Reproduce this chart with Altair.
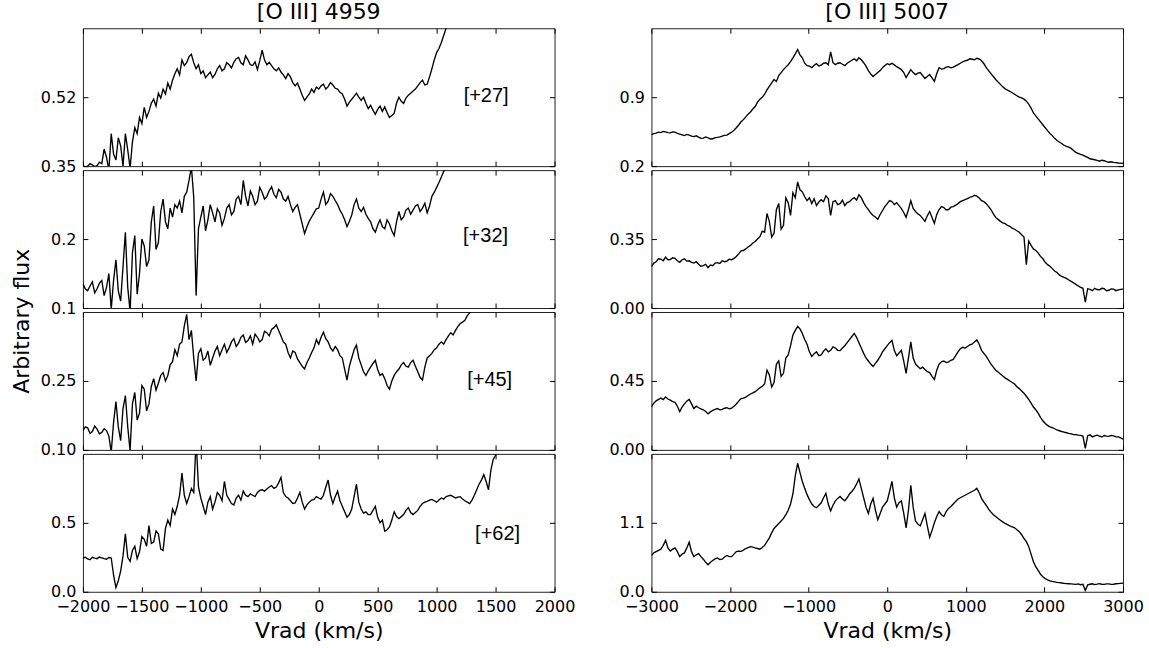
import altair as alt
import pandas as pd

# ---------------- data ----------------
LEFT_V0, LEFT_DV = -2000, 20     # velocity sampling of the [O III] 4959 spectra
RIGHT_V0, RIGHT_DV = -3000, 30   # velocity sampling of the [O III] 5007 spectra

left_xticks = [-2000, -1500, -1000, -500, 0, 500, 1000, 1500, 2000]
right_xticks = [-3000, -2000, -1000, 0, 1000, 2000, 3000]

f4959_27 = [
    0.352, 0.348, 0.350, 0.356, 0.353, 0.349, 0.351, 0.360, 0.356, 0.392, 0.372, 0.340, 0.430, 0.380, 0.365, 0.420, 0.400, 0.350, 0.430, 0.390,
    0.345, 0.410, 0.445, 0.430, 0.470, 0.455, 0.495, 0.470, 0.485, 0.505, 0.515, 0.498, 0.530, 0.518, 0.540, 0.528, 0.555, 0.540, 0.562, 0.578,
    0.590, 0.575, 0.612, 0.598, 0.605, 0.620, 0.626, 0.605, 0.590, 0.600, 0.578, 0.585, 0.568, 0.575, 0.582, 0.568, 0.576, 0.590, 0.598, 0.585,
    0.590, 0.605, 0.600, 0.592, 0.606, 0.615, 0.618, 0.605, 0.600, 0.622, 0.612, 0.600, 0.598, 0.607, 0.588, 0.610, 0.636, 0.612, 0.600, 0.606,
    0.598, 0.590, 0.585, 0.592, 0.582, 0.575, 0.566, 0.578, 0.570, 0.556, 0.548, 0.555, 0.540, 0.525, 0.512, 0.520, 0.528, 0.540, 0.532, 0.545,
    0.540, 0.548, 0.552, 0.540, 0.546, 0.556, 0.550, 0.542, 0.540, 0.532, 0.528, 0.515, 0.498, 0.508, 0.515, 0.522, 0.530, 0.520, 0.512, 0.520,
    0.505, 0.492, 0.500, 0.488, 0.478, 0.490, 0.498, 0.485, 0.496, 0.482, 0.470, 0.475, 0.480, 0.505, 0.520, 0.510, 0.505, 0.518, 0.525, 0.530,
    0.535, 0.540, 0.548, 0.556, 0.562, 0.550, 0.552, 0.570, 0.590, 0.612, 0.630, 0.640, 0.655, 0.672, 0.690, 0.705, 0.720, 0.735, 0.750,
]
f4959_32 = [
    0.135, 0.128, 0.125, 0.132, 0.138, 0.122, 0.128, 0.136, 0.140, 0.118, 0.130, 0.150, 0.098, 0.140, 0.170, 0.125, 0.110, 0.160, 0.210, 0.130,
    0.095, 0.180, 0.205, 0.120, 0.150, 0.200, 0.190, 0.160, 0.170, 0.225, 0.248, 0.185, 0.195, 0.240, 0.258, 0.225, 0.215, 0.245, 0.232, 0.250,
    0.245, 0.255, 0.238, 0.262, 0.268, 0.285, 0.305, 0.260, 0.118, 0.215, 0.232, 0.248, 0.212, 0.228, 0.250, 0.238, 0.225, 0.244, 0.238, 0.220,
    0.230, 0.245, 0.250, 0.235, 0.240, 0.258, 0.262, 0.250, 0.285, 0.262, 0.248, 0.270, 0.262, 0.250, 0.255, 0.275, 0.268, 0.258, 0.262, 0.270,
    0.276, 0.265, 0.260, 0.272, 0.268, 0.258, 0.255, 0.262, 0.250, 0.240, 0.246, 0.250, 0.236, 0.222, 0.208, 0.218, 0.226, 0.232, 0.238, 0.244,
    0.245, 0.258, 0.268, 0.250, 0.255, 0.266, 0.262, 0.256, 0.250, 0.242, 0.236, 0.228, 0.218, 0.226, 0.235, 0.250, 0.258, 0.245, 0.240, 0.246,
    0.236, 0.230, 0.225, 0.215, 0.210, 0.220, 0.228, 0.218, 0.215, 0.228, 0.222, 0.212, 0.205, 0.225, 0.240, 0.228, 0.232, 0.242, 0.245, 0.236,
    0.242, 0.248, 0.250, 0.240, 0.245, 0.252, 0.238, 0.248, 0.262, 0.268, 0.275, 0.282, 0.290, 0.298, 0.305, 0.312, 0.320,
]
f4959_45 = [
    0.142, 0.150, 0.148, 0.136, 0.140, 0.152, 0.145, 0.135, 0.138, 0.146, 0.142, 0.130, 0.095, 0.160, 0.205, 0.150, 0.120, 0.190, 0.218, 0.150,
    0.098, 0.200, 0.225, 0.165, 0.180, 0.240, 0.232, 0.185, 0.200, 0.238, 0.255, 0.230, 0.245, 0.262, 0.268, 0.250, 0.262, 0.285, 0.292, 0.318,
    0.305, 0.330, 0.335, 0.370, 0.395, 0.340, 0.360, 0.300, 0.250, 0.310, 0.320, 0.295, 0.300, 0.315, 0.284, 0.300, 0.315, 0.325, 0.305, 0.318,
    0.330, 0.312, 0.322, 0.335, 0.342, 0.325, 0.332, 0.345, 0.350, 0.334, 0.338, 0.348, 0.330, 0.352, 0.345, 0.335, 0.340, 0.358, 0.355, 0.348,
    0.362, 0.366, 0.372, 0.360, 0.348, 0.335, 0.330, 0.312, 0.300, 0.315, 0.312, 0.298, 0.290, 0.282, 0.276, 0.290, 0.300, 0.312, 0.322, 0.340,
    0.330, 0.345, 0.356, 0.342, 0.335, 0.322, 0.315, 0.325, 0.318, 0.305, 0.300, 0.275, 0.252, 0.282, 0.300, 0.318, 0.328, 0.300, 0.285, 0.270,
    0.262, 0.272, 0.280, 0.288, 0.295, 0.275, 0.262, 0.266, 0.255, 0.240, 0.232, 0.250, 0.262, 0.270, 0.276, 0.285, 0.290, 0.282, 0.280, 0.290,
    0.295, 0.282, 0.270, 0.258, 0.252, 0.280, 0.300, 0.305, 0.310, 0.318, 0.322, 0.330, 0.335, 0.330, 0.340, 0.348, 0.355, 0.350, 0.360, 0.368,
    0.375, 0.378, 0.382, 0.392, 0.398, 0.408, 0.415, 0.422, 0.430,
]
f4959_62 = [
    0.245, 0.250, 0.238, 0.232, 0.250, 0.244, 0.240, 0.252, 0.246, 0.240, 0.236, 0.248, 0.245, 0.120, 0.030, 0.080, 0.150, 0.260, 0.420, 0.250,
    0.220, 0.300, 0.330, 0.240, 0.290, 0.400, 0.380, 0.330, 0.480, 0.350, 0.360, 0.440, 0.420, 0.310, 0.300, 0.460, 0.520, 0.480, 0.600, 0.560,
    0.620, 0.700, 0.860, 0.700, 0.640, 0.690, 0.750, 0.720, 1.100, 0.760, 0.680, 0.620, 0.560, 0.650, 0.690, 0.600, 0.650, 0.720, 0.700, 0.660,
    0.800, 0.700, 0.670, 0.640, 0.630, 0.680, 0.700, 0.665, 0.730, 0.700, 0.690, 0.710, 0.700, 0.690, 0.720, 0.735, 0.740, 0.730, 0.745, 0.760,
    0.770, 0.750, 0.760, 0.790, 0.830, 0.720, 0.690, 0.680, 0.660, 0.640, 0.645, 0.680, 0.720, 0.650, 0.600, 0.630, 0.650, 0.665, 0.670, 0.690,
    0.680, 0.672, 0.700, 0.760, 0.810, 0.700, 0.640, 0.690, 0.730, 0.660, 0.620, 0.580, 0.540, 0.560, 0.600, 0.690, 0.780, 0.650, 0.600, 0.570,
    0.580, 0.560, 0.560, 0.590, 0.620, 0.540, 0.500, 0.520, 0.440, 0.450, 0.470, 0.520, 0.580, 0.545, 0.530, 0.545, 0.560, 0.590, 0.610, 0.575,
    0.560, 0.575, 0.590, 0.620, 0.640, 0.650, 0.655, 0.665, 0.670, 0.660, 0.650, 0.665, 0.680, 0.672, 0.690, 0.695, 0.700, 0.690, 0.680, 0.686,
    0.690, 0.672, 0.660, 0.650, 0.640, 0.665, 0.700, 0.740, 0.780, 0.810, 0.850, 0.800, 0.740, 0.880, 0.960, 0.990, 1.020, 1.040, 1.060,
]

f5007_27 = [
    0.520, 0.530, 0.535, 0.545, 0.540, 0.552, 0.548, 0.540, 0.538, 0.548, 0.545, 0.532, 0.525, 0.518, 0.510, 0.522, 0.515, 0.505, 0.500, 0.508,
    0.495, 0.482, 0.485, 0.496, 0.488, 0.476, 0.478, 0.490, 0.492, 0.498, 0.505, 0.512, 0.515, 0.530, 0.545, 0.565, 0.590, 0.618, 0.650, 0.672,
    0.700, 0.728, 0.750, 0.780, 0.805, 0.850, 0.880, 0.900, 0.930, 0.975, 1.010, 1.045, 1.080, 1.060, 1.120, 1.150, 1.180, 1.205, 1.230, 1.262,
    1.300, 1.340, 1.385, 1.330, 1.300, 1.245, 1.220, 1.215, 1.200, 1.225, 1.240, 1.218, 1.225, 1.245, 1.250, 1.230, 1.360, 1.250, 1.230, 1.245,
    1.250, 1.235, 1.220, 1.245, 1.260, 1.275, 1.290, 1.270, 1.300, 1.280, 1.250, 1.215, 1.170, 1.135, 1.110, 1.130, 1.150, 1.170, 1.200, 1.222,
    1.240, 1.230, 1.245, 1.228, 1.210, 1.195, 1.180, 1.150, 1.100, 1.140, 1.180, 1.150, 1.130, 1.145, 1.150, 1.120, 1.090, 1.110, 1.130, 1.095,
    1.060, 1.140, 1.200, 1.185, 1.190, 1.205, 1.210, 1.198, 1.205, 1.218, 1.230, 1.245, 1.260, 1.268, 1.275, 1.290, 1.285, 1.280, 1.295, 1.288,
    1.270, 1.240, 1.200, 1.170, 1.140, 1.110, 1.080, 1.055, 1.030, 1.005, 0.985, 0.972, 0.960, 0.945, 0.930, 0.915, 0.900, 0.892, 0.880, 0.860,
    0.830, 0.790, 0.740, 0.710, 0.680, 0.650, 0.620, 0.590, 0.560, 0.532, 0.510, 0.482, 0.460, 0.445, 0.430, 0.412, 0.400, 0.392, 0.380, 0.358,
    0.340, 0.330, 0.320, 0.312, 0.300, 0.288, 0.275, 0.270, 0.265, 0.258, 0.250, 0.260, 0.255, 0.245, 0.240, 0.244, 0.238, 0.235, 0.232, 0.230,
    0.228,
]
f5007_32 = [
    0.210, 0.228, 0.235, 0.250, 0.248, 0.240, 0.258, 0.245, 0.246, 0.255, 0.252, 0.240, 0.232, 0.245, 0.250, 0.238, 0.240, 0.232, 0.228, 0.235,
    0.222, 0.212, 0.215, 0.222, 0.205, 0.218, 0.215, 0.228, 0.230, 0.226, 0.240, 0.235, 0.238, 0.248, 0.245, 0.252, 0.262, 0.275, 0.290, 0.292,
    0.300, 0.310, 0.318, 0.330, 0.338, 0.350, 0.362, 0.390, 0.385, 0.480, 0.440, 0.360, 0.380, 0.500, 0.530, 0.400, 0.420, 0.560, 0.535, 0.470,
    0.585, 0.560, 0.640, 0.600, 0.590, 0.565, 0.545, 0.560, 0.530, 0.555, 0.520, 0.538, 0.550, 0.540, 0.570, 0.555, 0.470, 0.540, 0.545, 0.525,
    0.530, 0.548, 0.520, 0.535, 0.540, 0.552, 0.560, 0.548, 0.575, 0.560, 0.535, 0.515, 0.500, 0.482, 0.470, 0.462, 0.450, 0.475, 0.495, 0.515,
    0.530, 0.545, 0.540, 0.525, 0.535, 0.520, 0.505, 0.485, 0.460, 0.500, 0.545, 0.505, 0.490, 0.478, 0.470, 0.455, 0.440, 0.468, 0.490, 0.460,
    0.430, 0.475, 0.500, 0.515, 0.510, 0.498, 0.500, 0.512, 0.515, 0.522, 0.530, 0.540, 0.545, 0.550, 0.555, 0.562, 0.565, 0.572, 0.568, 0.558,
    0.545, 0.540, 0.530, 0.515, 0.500, 0.478, 0.460, 0.450, 0.440, 0.432, 0.428, 0.420, 0.415, 0.405, 0.400, 0.392, 0.385, 0.372, 0.360, 0.220,
    0.340, 0.318, 0.300, 0.292, 0.280, 0.262, 0.250, 0.232, 0.220, 0.212, 0.200, 0.188, 0.180, 0.168, 0.160, 0.155, 0.150, 0.142, 0.135, 0.128,
    0.120, 0.112, 0.105, 0.100, 0.030, 0.098, 0.095, 0.088, 0.100, 0.094, 0.092, 0.100, 0.098, 0.088, 0.090, 0.097, 0.096, 0.088, 0.092, 0.095,
    0.096,
]
f5007_45 = [
    0.280, 0.305, 0.320, 0.330, 0.338, 0.328, 0.345, 0.332, 0.325, 0.315, 0.310, 0.285, 0.250, 0.280, 0.300, 0.318, 0.330, 0.300, 0.270, 0.285,
    0.275, 0.268, 0.262, 0.250, 0.235, 0.248, 0.258, 0.265, 0.270, 0.262, 0.265, 0.272, 0.275, 0.268, 0.272, 0.285, 0.300, 0.318, 0.335, 0.338,
    0.345, 0.355, 0.365, 0.372, 0.380, 0.392, 0.405, 0.415, 0.430, 0.520, 0.490, 0.410, 0.440, 0.560, 0.580, 0.480, 0.500, 0.600, 0.620, 0.680,
    0.750, 0.780, 0.806, 0.790, 0.760, 0.720, 0.690, 0.640, 0.610, 0.628, 0.640, 0.615, 0.620, 0.645, 0.660, 0.640, 0.650, 0.672, 0.665, 0.650,
    0.648, 0.665, 0.680, 0.700, 0.720, 0.740, 0.760, 0.735, 0.700, 0.665, 0.630, 0.600, 0.580, 0.560, 0.545, 0.565, 0.585, 0.610, 0.640, 0.660,
    0.680, 0.700, 0.715, 0.650, 0.615, 0.632, 0.650, 0.580, 0.500, 0.600, 0.705, 0.600, 0.560, 0.545, 0.530, 0.540, 0.525, 0.510, 0.505, 0.480,
    0.460, 0.520, 0.560, 0.575, 0.580, 0.570, 0.575, 0.585, 0.590, 0.615, 0.640, 0.660, 0.670, 0.665, 0.675, 0.685, 0.690, 0.705, 0.718, 0.690,
    0.650, 0.630, 0.610, 0.585, 0.560, 0.540, 0.520, 0.508, 0.495, 0.482, 0.470, 0.460, 0.450, 0.440, 0.430, 0.412, 0.400, 0.385, 0.370, 0.350,
    0.330, 0.305, 0.280, 0.262, 0.240, 0.212, 0.190, 0.172, 0.160, 0.150, 0.145, 0.138, 0.130, 0.125, 0.120, 0.116, 0.112, 0.108, 0.105, 0.100,
    0.100, 0.096, 0.095, 0.090, 0.010, 0.092, 0.098, 0.085, 0.092, 0.096, 0.090, 0.084, 0.094, 0.090, 0.088, 0.095, 0.092, 0.086, 0.085, 0.078,
    0.070,
]
f5007_62 = [
    0.580, 0.620, 0.640, 0.660, 0.680, 0.740, 0.820, 0.700, 0.650, 0.680, 0.700, 0.640, 0.560, 0.600, 0.620, 0.700, 0.790, 0.640, 0.560, 0.590,
    0.610, 0.560, 0.520, 0.470, 0.430, 0.470, 0.500, 0.525, 0.540, 0.515, 0.520, 0.555, 0.580, 0.560, 0.560, 0.600, 0.640, 0.648, 0.645, 0.665,
    0.690, 0.705, 0.720, 0.712, 0.700, 0.690, 0.680, 0.705, 0.740, 0.800, 0.860, 0.940, 1.010, 1.050, 1.090, 1.130, 1.170, 1.230, 1.300, 1.400,
    1.560, 1.850, 2.050, 1.900, 1.760, 1.650, 1.550, 1.470, 1.400, 1.360, 1.340, 1.380, 1.420, 1.500, 1.570, 1.400, 1.290, 1.380, 1.450, 1.490,
    1.520, 1.480, 1.450, 1.500, 1.560, 1.600, 1.650, 1.720, 1.800, 1.650, 1.500, 1.350, 1.250, 1.400, 1.490, 1.300, 1.150, 1.250, 1.350, 1.400,
    1.450, 1.600, 1.760, 1.500, 1.350, 1.420, 1.450, 1.250, 1.020, 1.300, 1.700, 1.350, 1.130, 1.080, 1.050, 1.150, 1.250, 1.050, 0.870, 0.980,
    1.100, 1.200, 1.280, 1.230, 1.200, 1.280, 1.330, 1.360, 1.400, 1.440, 1.480, 1.500, 1.520, 1.540, 1.560, 1.580, 1.600, 1.620, 1.650, 1.580,
    1.490, 1.430, 1.380, 1.320, 1.270, 1.230, 1.200, 1.170, 1.140, 1.115, 1.090, 1.070, 1.050, 1.035, 1.020, 0.990, 0.960, 0.910, 0.850, 0.800,
    0.720, 0.600, 0.480, 0.400, 0.340, 0.280, 0.240, 0.210, 0.190, 0.175, 0.165, 0.158, 0.150, 0.145, 0.140, 0.135, 0.130, 0.128, 0.125, 0.122,
    0.118, 0.125, 0.112, 0.118, 0.020, 0.110, 0.120, 0.128, 0.115, 0.122, 0.130, 0.120, 0.118, 0.126, 0.125, 0.118, 0.120, 0.128, 0.130, 0.134,
    0.138,
]

left_flux = [f4959_27, f4959_32, f4959_45, f4959_62]
right_flux = [f5007_27, f5007_32, f5007_45, f5007_62]

left_ydomains = [[0.35, 0.69], [0.1, 0.3], [0.10, 0.40], [0.0, 1.0]]
left_yticks = [[0.35, 0.52], [0.1, 0.2], [0.10, 0.25], [0.0, 0.5]]
left_yfmt = [".2f", ".1f", ".2f", ".1f"]
right_ydomains = [[0.2, 1.6], [0.0, 0.70], [0.0, 0.90], [0.0, 2.2]]
right_yticks = [[0.2, 0.9], [0.0, 0.35], [0.0, 0.45], [0.0, 1.1]]
right_yfmt = [".1f", ".2f", ".2f", ".1f"]

epochs = ["[+27]", "[+32]", "[+45]", "[+62]"]
epoch_x = [1420, 1415, 1450, 1517]
epoch_y = [0.522, 0.204, 0.253, 0.42]

# ---------------- chart ----------------
W, H = 472, 138
TICK = 5
FONT = "DejaVu Sans"


def panel(v0, dv, flux, xdom, xticks, ydom, yticks, yfmt, bottom, title=None, label=None):
    df = pd.DataFrame({"v": [v0 + dv * i for i in range(len(flux))], "f": flux})
    xs = alt.Scale(domain=xdom, nice=False, zero=False)
    ys = alt.Scale(domain=ydom, nice=False, zero=False)
    common = dict(offset=-TICK, tickSize=TICK, tickColor="black", tickWidth=1,
                  domain=False, grid=False)
    if bottom:
        xaxis = alt.Axis(orient="bottom", values=xticks, format="d", labelFlush=False,
                         labelPadding=7, title="Vrad (km/s)", titlePadding=6, **common)
    else:
        xaxis = alt.Axis(orient="bottom", values=xticks, labels=False, title=None, **common)
    yaxis = alt.Axis(orient="left", values=yticks, format=yfmt, labelPadding=7,
                     labelFlush=False, title=None, **common)
    line = alt.Chart(df).mark_line(color="black", strokeWidth=1.35, clip=True).encode(
        x=alt.X("v:Q", scale=xs, axis=xaxis),
        y=alt.Y("f:Q", scale=ys, axis=yaxis),
    )
    ghost = alt.Chart(df).mark_line(opacity=0, clip=True).encode(
        x=alt.X("v:Q", scale=xs,
                axis=alt.Axis(orient="top", values=xticks, labels=False, title=None, **common)),
        y=alt.Y("f:Q", scale=ys,
                axis=alt.Axis(orient="right", values=yticks, labels=False, title=None, **common)),
    )
    layers = [line, ghost]
    if label is not None:
        ldf = pd.DataFrame({"v": [label[1]], "f": [label[2]], "t": [label[0]]})
        txt = alt.Chart(ldf).mark_text(font="Liberation Sans", fontSize=20, color="black").encode(
            x=alt.X("v:Q", scale=xs, axis=None),
            y=alt.Y("f:Q", scale=ys, axis=None),
            text="t:N",
        )
        layers.append(txt)
    ch = alt.layer(*layers).resolve_axis(x="independent", y="independent").properties(
        width=W, height=H)
    if title is not None:
        ch = ch.properties(title=alt.TitleParams(title, fontSize=22, font=FONT,
                                                 fontWeight="normal", color="black",
                                                 anchor="middle", frame="group", offset=4))
    return ch


left_panels = []
right_panels = []
for i in range(4):
    left_panels.append(panel(
        LEFT_V0, LEFT_DV, left_flux[i], [-2000, 2000], left_xticks,
        left_ydomains[i], left_yticks[i], left_yfmt[i], bottom=(i == 3),
        title="[O III] 4959" if i == 0 else None,
        label=(epochs[i], epoch_x[i], epoch_y[i])))
    right_panels.append(panel(
        RIGHT_V0, RIGHT_DV, right_flux[i], [-3000, 3000], right_xticks,
        right_ydomains[i], right_yticks[i], right_yfmt[i], bottom=(i == 3),
        title="[O III] 5007" if i == 0 else None))

left_col = alt.vconcat(*left_panels, spacing=4, bounds="flush").properties(
    title=alt.TitleParams("Arbitrary flux", orient="left", anchor="middle", fontSize=22,
                          font=FONT, fontWeight="normal", color="black", offset=6))
right_col = alt.vconcat(*right_panels, spacing=4, bounds="flush")

chart = alt.hconcat(left_col, right_col, spacing=32).properties(
    padding={"left": 10, "top": 0, "right": 5, "bottom": 2},
    background="white",
).configure_view(
    stroke="#222222", strokeWidth=1
).configure_axis(
    labelFont=FONT, labelFontSize=16, labelColor="black",
    titleFont=FONT, titleFontSize=22, titleFontWeight="normal", titleColor="black",
)

chart.save("out.html", embed_options={"renderer": "svg", "actions": False})
